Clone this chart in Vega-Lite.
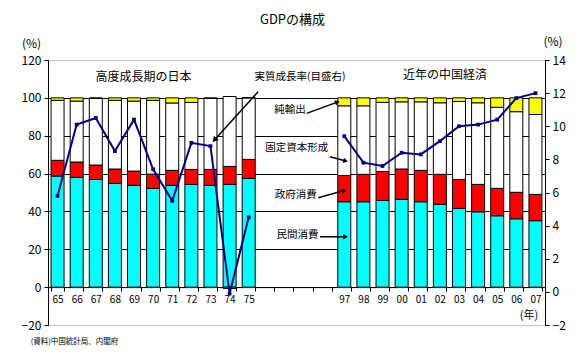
{
  "$schema": "https://vega.github.io/schema/vega-lite/v6.json",
  "width": 497,
  "height": 265,
  "autosize": {"type": "none"},
  "padding": {"left": 48, "top": 60, "right": 39, "bottom": 38},
  "background": "white",
  "title": {"text": "GDPの構成", "fontSize": 13, "fontWeight": "normal", "font": "Noto Sans CJK JP", "color": "black", "offset": 8, "dx": -4},
  "config": {
    "view": {"stroke": null},
    "font": "Noto Sans CJK JP",
    "axis": {"labelFont": "Noto Sans CJK JP", "titleFont": "Noto Sans CJK JP", "labelColor": "black", "titleColor": "black"}
  },
  "datasets": {
    "gdp": [
      {"year": "65", "comp": "民間消費", "value": 58.7}, {"year": "65", "comp": "政府消費", "value": 8.3}, {"year": "65", "comp": "固定資本形成", "value": 31.7}, {"year": "65", "comp": "純輸出", "value": 1.3},
      {"year": "66", "comp": "民間消費", "value": 58.0}, {"year": "66", "comp": "政府消費", "value": 8.1}, {"year": "66", "comp": "固定資本形成", "value": 32.2}, {"year": "66", "comp": "純輸出", "value": 1.7},
      {"year": "67", "comp": "民間消費", "value": 56.9}, {"year": "67", "comp": "政府消費", "value": 7.6}, {"year": "67", "comp": "固定資本形成", "value": 35.2}, {"year": "67", "comp": "純輸出", "value": 0.3},
      {"year": "68", "comp": "民間消費", "value": 54.8}, {"year": "68", "comp": "政府消費", "value": 7.6}, {"year": "68", "comp": "固定資本形成", "value": 36.3}, {"year": "68", "comp": "純輸出", "value": 1.3},
      {"year": "69", "comp": "民間消費", "value": 53.8}, {"year": "69", "comp": "政府消費", "value": 7.5}, {"year": "69", "comp": "固定資本形成", "value": 37.0}, {"year": "69", "comp": "純輸出", "value": 1.7},
      {"year": "70", "comp": "民間消費", "value": 52.2}, {"year": "70", "comp": "政府消費", "value": 7.5}, {"year": "70", "comp": "固定資本形成", "value": 39.0}, {"year": "70", "comp": "純輸出", "value": 1.3},
      {"year": "71", "comp": "民間消費", "value": 53.8}, {"year": "71", "comp": "政府消費", "value": 7.9}, {"year": "71", "comp": "固定資本形成", "value": 35.6}, {"year": "71", "comp": "純輸出", "value": 2.7},
      {"year": "72", "comp": "民間消費", "value": 54.3}, {"year": "72", "comp": "政府消費", "value": 7.9}, {"year": "72", "comp": "固定資本形成", "value": 35.4}, {"year": "72", "comp": "純輸出", "value": 2.4},
      {"year": "73", "comp": "民間消費", "value": 53.8}, {"year": "73", "comp": "政府消費", "value": 8.4}, {"year": "73", "comp": "固定資本形成", "value": 37.5}, {"year": "73", "comp": "純輸出", "value": 0.3},
      {"year": "74", "comp": "民間消費", "value": 54.3}, {"year": "74", "comp": "政府消費", "value": 9.5}, {"year": "74", "comp": "固定資本形成", "value": 36.9}, {"year": "74", "comp": "純輸出", "value": -0.7},
      {"year": "75", "comp": "民間消費", "value": 57.5}, {"year": "75", "comp": "政府消費", "value": 10.0}, {"year": "75", "comp": "固定資本形成", "value": 32.5}, {"year": "75", "comp": "純輸出", "value": 0},
      {"year": "97", "comp": "民間消費", "value": 45.1}, {"year": "97", "comp": "政府消費", "value": 13.9}, {"year": "97", "comp": "固定資本形成", "value": 36.8}, {"year": "97", "comp": "純輸出", "value": 4.2},
      {"year": "98", "comp": "民間消費", "value": 45.1}, {"year": "98", "comp": "政府消費", "value": 14.5}, {"year": "98", "comp": "固定資本形成", "value": 36.2}, {"year": "98", "comp": "純輸出", "value": 4.2},
      {"year": "99", "comp": "民間消費", "value": 45.8}, {"year": "99", "comp": "政府消費", "value": 15.3}, {"year": "99", "comp": "固定資本形成", "value": 36.5}, {"year": "99", "comp": "純輸出", "value": 2.4},
      {"year": "00", "comp": "民間消費", "value": 46.4}, {"year": "00", "comp": "政府消費", "value": 16.0}, {"year": "00", "comp": "固定資本形成", "value": 35.5}, {"year": "00", "comp": "純輸出", "value": 2.1},
      {"year": "01", "comp": "民間消費", "value": 45.1}, {"year": "01", "comp": "政府消費", "value": 16.6}, {"year": "01", "comp": "固定資本形成", "value": 36.2}, {"year": "01", "comp": "純輸出", "value": 2.1},
      {"year": "02", "comp": "民間消費", "value": 43.8}, {"year": "02", "comp": "政府消費", "value": 15.8}, {"year": "02", "comp": "固定資本形成", "value": 37.8}, {"year": "02", "comp": "純輸出", "value": 2.6},
      {"year": "03", "comp": "民間消費", "value": 41.6}, {"year": "03", "comp": "政府消費", "value": 15.3}, {"year": "03", "comp": "固定資本形成", "value": 41.2}, {"year": "03", "comp": "純輸出", "value": 1.9},
      {"year": "04", "comp": "民間消費", "value": 39.8}, {"year": "04", "comp": "政府消費", "value": 14.5}, {"year": "04", "comp": "固定資本形成", "value": 43.1}, {"year": "04", "comp": "純輸出", "value": 2.6},
      {"year": "05", "comp": "民間消費", "value": 37.7}, {"year": "05", "comp": "政府消費", "value": 14.5}, {"year": "05", "comp": "固定資本形成", "value": 42.8}, {"year": "05", "comp": "純輸出", "value": 5.0},
      {"year": "06", "comp": "民間消費", "value": 36.1}, {"year": "06", "comp": "政府消費", "value": 14.0}, {"year": "06", "comp": "固定資本形成", "value": 42.6}, {"year": "06", "comp": "純輸出", "value": 7.3},
      {"year": "07", "comp": "民間消費", "value": 35.1}, {"year": "07", "comp": "政府消費", "value": 13.9}, {"year": "07", "comp": "固定資本形成", "value": 42.2}, {"year": "07", "comp": "純輸出", "value": 8.8}
    ],
    "growth": [
      {"year": "65", "era": "japan", "growth": 5.8}, {"year": "66", "era": "japan", "growth": 10.1}, {"year": "67", "era": "japan", "growth": 10.5},
      {"year": "68", "era": "japan", "growth": 8.5}, {"year": "69", "era": "japan", "growth": 10.4}, {"year": "70", "era": "japan", "growth": 7.4},
      {"year": "71", "era": "japan", "growth": 5.5}, {"year": "72", "era": "japan", "growth": 9.0}, {"year": "73", "era": "japan", "growth": 8.8},
      {"year": "74", "era": "japan", "growth": -0.1}, {"year": "75", "era": "japan", "growth": 4.5},
      {"year": "97", "era": "china", "growth": 9.4}, {"year": "98", "era": "china", "growth": 7.8}, {"year": "99", "era": "china", "growth": 7.6},
      {"year": "00", "era": "china", "growth": 8.4}, {"year": "01", "era": "china", "growth": 8.3}, {"year": "02", "era": "china", "growth": 9.1},
      {"year": "03", "era": "china", "growth": 10.0}, {"year": "04", "era": "china", "growth": 10.1}, {"year": "05", "era": "china", "growth": 10.4},
      {"year": "06", "era": "china", "growth": 11.7}, {"year": "07", "era": "china", "growth": 12.0}
    ],
    "labels": [
      {"label": "高度成長期の日本", "u": 5.0, "v": 111, "kind": "head"},
      {"label": "近年の中国経済", "u": 20.77, "v": 112, "kind": "head"},
      {"label": "実質成長率(目盛右)", "u": 13.18, "v": 111, "kind": "call"},
      {"label": "純輸出", "u": 12.66, "v": 93.5, "kind": "call"},
      {"label": "固定資本形成", "u": 13.01, "v": 73.3, "kind": "call"},
      {"label": "政府消費", "u": 12.96, "v": 48.7, "kind": "call"},
      {"label": "民間消費", "u": 13.05, "v": 27.5, "kind": "call"},
      {"label": "(資料)中国統計局、内閣府", "u": -0.9, "v": -29, "kind": "note"}
    ],
    "arrows": [
      {"name": "growth", "x1": 10.99, "y1": 103.2, "x2": 8.74, "y2": 78.1},
      {"name": "nx", "x1": 13.53, "y1": 91.8, "x2": 15.1, "y2": 97.6},
      {"name": "cap", "x1": 14.75, "y1": 68.9, "x2": 15.53, "y2": 66.8},
      {"name": "gov", "x1": 14.14, "y1": 47.2, "x2": 15.45, "y2": 50.9},
      {"name": "priv", "x1": 14.23, "y1": 26.6, "x2": 15.53, "y2": 26.6}
    ]
  },
  "resolve": {"scale": {"x": "independent", "y": "independent"}},
  "layer": [
    {
      "data": {"name": "gdp"},
      "transform": [{"calculate": "indexof(['民間消費', '政府消費', '固定資本形成', '純輸出'], datum.comp)", "as": "stackorder"}],
      "mark": {"type": "bar", "stroke": "black", "strokeWidth": 1},
      "encoding": {
        "x": {
          "field": "year", "type": "nominal",
          "scale": {"type": "band", "domain": ["65","66","67","68","69","70","71","72","73","74","75","g1","g2","g3","g4","97","98","99","00","01","02","03","04","05","06","07"], "paddingInner": 0.32, "paddingOuter": 0.16},
          "axis": {
            "orient": "bottom", "offset": -37.9, "title": "(年)", "titleX": 480.5, "titleY": 28, "titleAlign": "center", "titleBaseline": "middle",
            "titleFontSize": 11, "titleFontWeight": "normal", "labelAngle": 0, "labelFontSize": 10, "labelPadding": 3,
            "labelExpr": "indexof(datum.label, 'g') == 0 ? '' : datum.label",
            "tickBand": "extent", "tickSize": 4, "tickColor": "black", "domainColor": "black", "grid": false
          }
        },
        "y": {
          "field": "value", "type": "quantitative", "stack": "zero",
          "scale": {"domain": [-20, 120], "nice": false, "zero": false},
          "axis": {
            "values": [-20, 0, 20, 40, 60, 80, 100, 120], "title": "(%)", "titleAngle": 0, "titleX": -17, "titleY": -17,
            "titleAlign": "center", "titleBaseline": "middle", "titleFontSize": 12, "titleFontWeight": "normal",
            "labelFontSize": 12, "labelPadding": 3, "tickSize": 4, "tickColor": "black", "domainColor": "black",
            "grid": true, "gridWidth": 1,
            "gridColor": {"condition": {"test": "datum.value == 120 || datum.value == -20", "value": "#8c8c8c"}, "value": "black"},
            "gridDash": {"condition": {"test": "datum.value == 120 || datum.value == -20", "value": [1, 1]}, "value": []}
          }
        },
        "color": {
          "field": "comp", "type": "nominal",
          "scale": {"domain": ["民間消費", "政府消費", "固定資本形成", "純輸出"], "range": ["#00FFFF", "#FF0000", "#FFFFFF", "#FFFF00"]},
          "legend": null
        },
        "order": {"field": "stackorder", "type": "quantitative", "sort": "ascending"}
      }
    },
    {
      "data": {"name": "growth"},
      "mark": {"type": "line", "color": "#000080", "strokeWidth": 2, "point": {"shape": "square", "size": 14, "filled": true, "color": "#000080"}},
      "encoding": {
        "x": {
          "field": "year", "type": "nominal",
          "scale": {"type": "band", "domain": ["65","66","67","68","69","70","71","72","73","74","75","g1","g2","g3","g4","97","98","99","00","01","02","03","04","05","06","07"], "paddingInner": 0.32, "paddingOuter": 0.16},
          "axis": null
        },
        "y": {
          "field": "growth", "type": "quantitative",
          "scale": {"domain": [-2, 14], "nice": false, "zero": false},
          "axis": {
            "orient": "right", "values": [-2, 0, 2, 4, 6, 8, 10, 12, 14], "title": "(%)", "titleAngle": 0, "titleX": 7.5, "titleY": -19,
            "titleAlign": "center", "titleBaseline": "middle", "titleFontSize": 12, "titleFontWeight": "normal",
            "labelFontSize": 12, "labelPadding": 3, "tickSize": 4, "tickColor": "black", "domainColor": "black", "grid": false
          }
        },
        "detail": {"field": "era", "type": "nominal"},
        "order": {"value": null}
      }
    },
    {
      "data": {"name": "arrows"},
      "mark": {"type": "rule", "color": "black", "strokeWidth": 1.5},
      "encoding": {
        "x": {"field": "x1", "type": "quantitative", "scale": {"domain": [0, 26], "nice": false, "zero": false}, "axis": null},
        "x2": {"field": "x2"},
        "y": {"field": "y1", "type": "quantitative", "scale": {"domain": [-20, 120], "nice": false, "zero": false}, "axis": null},
        "y2": {"field": "y2"}
      }
    },
    {
      "data": {"name": "arrows"},
      "transform": [{"filter": "datum.name == 'growth'"}],
      "mark": {"type": "point", "shape": "triangle", "filled": true, "color": "black", "size": 40, "opacity": 1, "angle": 222},
      "encoding": {
        "x": {"field": "x2", "type": "quantitative", "scale": {"domain": [0, 26], "nice": false, "zero": false}, "axis": null},
        "y": {"field": "y2", "type": "quantitative", "scale": {"domain": [-20, 120], "nice": false, "zero": false}, "axis": null}
      }
    },
    {
      "data": {"name": "arrows"},
      "transform": [{"filter": "datum.name == 'nx'"}],
      "mark": {"type": "point", "shape": "triangle", "filled": true, "color": "black", "size": 30, "opacity": 1, "angle": 70},
      "encoding": {
        "x": {"field": "x2", "type": "quantitative", "scale": {"domain": [0, 26], "nice": false, "zero": false}, "axis": null},
        "y": {"field": "y2", "type": "quantitative", "scale": {"domain": [-20, 120], "nice": false, "zero": false}, "axis": null}
      }
    },
    {
      "data": {"name": "arrows"},
      "transform": [{"filter": "datum.name == 'cap'"}],
      "mark": {"type": "point", "shape": "triangle", "filled": true, "color": "black", "size": 30, "opacity": 1, "angle": 105},
      "encoding": {
        "x": {"field": "x2", "type": "quantitative", "scale": {"domain": [0, 26], "nice": false, "zero": false}, "axis": null},
        "y": {"field": "y2", "type": "quantitative", "scale": {"domain": [-20, 120], "nice": false, "zero": false}, "axis": null}
      }
    },
    {
      "data": {"name": "arrows"},
      "transform": [{"filter": "datum.name == 'gov'"}],
      "mark": {"type": "point", "shape": "triangle", "filled": true, "color": "black", "size": 30, "opacity": 1, "angle": 74},
      "encoding": {
        "x": {"field": "x2", "type": "quantitative", "scale": {"domain": [0, 26], "nice": false, "zero": false}, "axis": null},
        "y": {"field": "y2", "type": "quantitative", "scale": {"domain": [-20, 120], "nice": false, "zero": false}, "axis": null}
      }
    },
    {
      "data": {"name": "arrows"},
      "transform": [{"filter": "datum.name == 'priv'"}],
      "mark": {"type": "point", "shape": "triangle", "filled": true, "color": "black", "size": 30, "opacity": 1, "angle": 90},
      "encoding": {
        "x": {"field": "x2", "type": "quantitative", "scale": {"domain": [0, 26], "nice": false, "zero": false}, "axis": null},
        "y": {"field": "y2", "type": "quantitative", "scale": {"domain": [-20, 120], "nice": false, "zero": false}, "axis": null}
      }
    },
    {
      "data": {"name": "labels"},
      "transform": [{"filter": "datum.kind == 'head'"}],
      "mark": {"type": "text", "font": "Noto Sans CJK JP", "fontSize": 12, "align": "center", "baseline": "middle", "color": "black"},
      "encoding": {
        "x": {"field": "u", "type": "quantitative", "scale": {"domain": [0, 26], "nice": false, "zero": false}, "axis": null},
        "y": {"field": "v", "type": "quantitative", "scale": {"domain": [-20, 120], "nice": false, "zero": false}, "axis": null},
        "text": {"field": "label"}
      }
    },
    {
      "data": {"name": "labels"},
      "transform": [{"filter": "datum.kind == 'call'"}],
      "mark": {"type": "text", "font": "Noto Sans CJK JP", "fontSize": 10.5, "align": "center", "baseline": "middle", "color": "black"},
      "encoding": {
        "x": {"field": "u", "type": "quantitative", "scale": {"domain": [0, 26], "nice": false, "zero": false}, "axis": null},
        "y": {"field": "v", "type": "quantitative", "scale": {"domain": [-20, 120], "nice": false, "zero": false}, "axis": null},
        "text": {"field": "label"}
      }
    },
    {
      "data": {"name": "labels"},
      "transform": [{"filter": "datum.kind == 'note'"}],
      "mark": {"type": "text", "font": "Noto Sans CJK JP", "fontSize": 7.5, "align": "left", "baseline": "middle", "color": "black"},
      "encoding": {
        "x": {"field": "u", "type": "quantitative", "scale": {"domain": [0, 26], "nice": false, "zero": false}, "axis": null},
        "y": {"field": "v", "type": "quantitative", "scale": {"domain": [-20, 120], "nice": false, "zero": false}, "axis": null},
        "text": {"field": "label"}
      }
    }
  ]
}
